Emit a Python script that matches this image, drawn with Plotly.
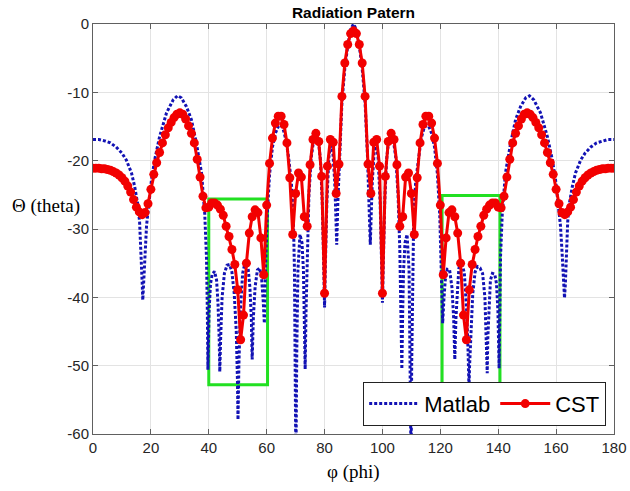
import plotly.graph_objects as go

# ---------------- data ----------------
cst_phi = list(range(0, 181))
cst_db = [
    -21.1, -21.1, -21.1, -21.2, -21.2, -21.3, -21.4, -21.6, -21.8, -22.1,
    -22.5, -23.0, -23.7, -24.6, -25.7, -26.8, -27.5, -27.9, -27.6, -26.3,
    -24.2, -22.0, -20.3, -18.8, -17.4, -16.2, -15.2, -14.4, -13.7, -13.2,
    -13.0, -13.2, -13.9, -14.9, -16.0, -17.4, -19.8, -22.4, -25.2, -26.9,
    -26.8, -26.2, -26.2, -26.5, -27.1, -28.0, -29.6, -31.1, -33.0, -35.2,
    -38.9, -46.2, -42.6, -35.0, -30.6, -28.2, -27.2, -27.6, -31.3, -36.7,
    -26.5, -20.4, -16.7, -14.5, -13.5, -13.5, -14.7, -17.4, -22.5, -30.8,
    -24.8, -21.8, -22.4, -28.2, -29.6, -20.6, -16.9, -16.0, -17.2, -22.3,
    -39.4, -20.8, -16.9, -17.3, -24.8, -20.5, -10.6, -5.7, -3.0, -1.4,
    -1.0,
    -1.4, -3.0, -5.7, -10.6, -20.5, -24.8, -17.3, -16.9, -20.8, -39.4,
    -22.3, -17.2, -16.0, -16.9, -20.6, -29.6, -28.2, -22.4, -21.8, -24.8,
    -30.8, -22.5, -17.4, -14.7, -13.5, -13.5, -14.5, -16.7, -20.4, -26.5,
    -36.7, -31.3, -27.6, -27.2, -28.2, -30.6, -35.0, -42.6, -46.2, -38.9,
    -35.2, -33.0, -31.1, -29.6, -28.0, -27.1, -26.5, -26.2, -26.2, -26.8,
    -26.9, -25.2, -22.4, -19.8, -17.4, -16.0, -14.9, -13.9, -13.2, -13.0,
    -13.2, -13.7, -14.4, -15.2, -16.2, -17.4, -18.8, -20.3, -22.0, -24.2,
    -26.3, -27.6, -27.9, -27.5, -26.8, -25.7, -24.6, -23.7, -23.0, -22.5,
    -22.1, -21.8, -21.6, -21.4, -21.3, -21.2, -21.2, -21.1, -21.1, -21.1,
]

matlab_phi = [
    0, 2, 4, 6, 8, 10, 11.5, 12.5, 13.3, 14.4, 15.6, 16.1, 16.6, 17.0, 17.2,
    17.5, 18.0, 18.5, 19.0, 20.2, 21.3, 23.0, 25.4, 27.7, 29.2, 30.5, 32.3,
    34.0, 35.7, 37.5, 38.6, 39.2, 39.5, 39.7, 40.1, 40.6, 41.2, 42.0, 42.7,
    43.2, 43.6, 43.8, 44.1, 44.6, 45.4, 46.3, 47.2, 48.0, 48.8, 49.5, 49.9,
    50.1, 50.4, 50.9, 51.7, 52.5, 53.0, 53.6, 54.2, 54.7, 55.0, 55.4, 56.0,
    56.8, 57.6, 58.3, 58.8, 59.2, 59.6, 60.2, 61.0, 62.0, 63.0, 64.0, 64.8,
    65.6, 66.5, 67.5, 68.5, 69.2, 69.6, 69.9, 70.1, 70.4, 70.8, 71.5, 72.2,
    72.7, 73.0, 73.3, 73.6, 74.0, 74.6, 75.4, 76.3, 77.1, 77.9, 78.6, 79.2,
    79.7, 80.0, 80.3, 80.8, 81.5, 82.2, 82.9, 83.5, 83.9, 84.2, 84.6, 85.2,
    86.0, 87.0, 88.0, 89.0, 90.0,
    91.0, 92.0, 93.0, 94.0, 94.8, 95.4, 95.8, 96.1, 96.5, 97.1, 97.8, 98.5,
    99.2, 99.7, 100.0, 100.3, 100.8, 101.4, 102.1, 102.9, 103.7, 104.6,
    105.4, 106.0, 106.4, 106.7, 107.0, 107.3, 107.8, 108.5, 109.2, 109.6,
    109.9, 110.1, 110.4, 110.8, 111.5, 112.5, 113.4, 114.4, 115.2, 116.0,
    117.0, 118.0, 119.0, 119.8, 120.4, 120.8, 121.2, 121.7, 122.4, 123.2,
    124.0, 124.6, 125.0, 125.4, 126.0, 126.4, 127.0, 127.5, 128.3, 129.1,
    129.6, 129.9, 130.1, 130.5, 131.2, 132.0, 132.8, 133.7, 134.6, 135.4,
    135.9, 136.2, 136.4, 136.8, 137.3, 138.0, 138.8, 139.4, 139.9, 140.3,
    140.5, 140.8, 141.4, 142.5, 144.3, 146.0, 147.7, 149.5, 150.8, 152.3,
    154.6, 157.0, 158.7, 159.8, 161.0, 161.5, 162.0, 162.5, 162.9, 163.2,
    163.6, 164.0, 164.4, 165.6, 166.7, 167.5, 168.5, 170.0, 172.0, 174.0,
    176.0, 178.0, 180.0,
]
matlab_db = [
    -16.9, -16.9, -17.1, -17.4, -18.0, -18.9, -19.9, -20.9, -21.8, -23.8,
    -26.7, -29.0, -33.0, -38.0, -40.4, -38.0, -33.0, -29.5, -27.5, -22.8,
    -19.9, -16.5, -13.0, -11.1, -10.5, -10.8, -12.1, -14.0, -17.4, -21.8,
    -27.7, -34.0, -42.0, -50.6, -42.0, -38.0, -36.6, -36.2, -37.5, -41.0,
    -46.0, -50.9, -46.0, -40.0, -36.5, -35.3, -35.2, -36.3, -39.5, -45.0,
    -52.0, -57.9, -50.0, -42.0, -36.5, -35.0, -34.8, -35.8, -38.5, -43.0,
    -49.1, -43.0, -38.5, -36.0, -35.7, -37.5, -40.5, -43.8, -36.0, -28.0,
    -22.0, -18.0, -16.0, -15.0, -14.8, -15.2, -16.7, -19.3, -23.0, -28.0,
    -36.0, -50.0, -65.0, -48.0, -36.0, -30.8, -32.0, -36.0, -42.0, -50.5,
    -42.0, -33.0, -25.0, -19.5, -16.8, -16.3, -17.2, -20.0, -26.0, -35.0,
    -41.5, -35.0, -26.0, -19.5, -17.5, -19.0, -23.0, -28.0, -32.3, -26.0,
    -19.0, -11.5, -6.5, -3.2, -0.8, 0.0,
    -0.8, -3.2, -6.5, -11.5, -19.0, -26.0, -32.3, -28.0, -23.0, -19.0,
    -17.5, -19.5, -26.0, -35.0, -40.8, -35.0, -26.0, -20.0, -17.2, -16.3,
    -16.8, -19.5, -25.0, -33.0, -42.0, -50.5, -42.0, -36.0, -32.0, -30.8,
    -36.0, -48.0, -65.0, -50.0, -36.0, -28.0, -23.0, -19.3, -16.7, -15.2,
    -14.8, -15.0, -16.0, -18.0, -22.0, -28.0, -36.0, -43.8, -40.5, -37.5,
    -35.9, -36.0, -38.5, -43.0, -49.1, -43.0, -38.5, -35.8, -34.8, -35.0,
    -36.5, -42.0, -48.0, -53.3, -50.0, -45.0, -39.5, -36.3, -35.5, -35.7,
    -36.5, -40.0, -46.0, -51.1, -46.0, -41.0, -37.5, -36.5, -36.6, -38.0,
    -42.0, -50.4, -42.0, -34.0, -27.7, -21.8, -17.4, -14.0, -12.1, -10.8,
    -10.5, -11.1, -13.0, -16.5, -19.9, -22.8, -27.5, -29.5, -33.0, -38.0,
    -40.1, -38.0, -33.0, -29.0, -26.7, -23.8, -21.8, -20.9, -19.9, -18.9,
    -18.0, -17.4, -17.1, -16.9, -16.9,
]

# highlighted regions (phi ranges, dB ranges)
box_phi = [[40.0, 60.3], [120.6, 140.6]]
box_db = [[-52.8, -25.6], [-52.6, -25.1]]

x_tick_vals = [0, 20, 40, 60, 80, 100, 120, 140, 160, 180]
x_tick_text = ["0", "20", "40", "60", "80", "100", "120", "140", "160", "180"]
y_tick_vals = [-60, -50, -40, -30, -20, -10, 0]
y_tick_text = ["-60", "-50", "-40", "-30", "-20", "-10", "0"]

# ---------------- figure ----------------
BLUE = "#1212b4"
RED = "#f20000"
GREEN = "#22e022"
AX = "#606060"

fig = go.Figure()
fig.add_trace(go.Scatter(
    x=matlab_phi, y=matlab_db, mode="lines", name="Matlab",
    line=dict(color=BLUE, width=3, dash="3px,2px"),
))
fig.add_trace(go.Scatter(
    x=cst_phi, y=cst_db, mode="lines+markers", name="CST",
    line=dict(color=RED, width=3),
    marker=dict(color=RED, size=9, symbol="circle"),
))

for (p0, p1), (d0, d1) in zip(box_phi, box_db):
    fig.add_shape(type="rect", xref="x", yref="y", x0=p0, x1=p1, y0=d0, y1=d1,
                  line=dict(color=GREEN, width=3), fillcolor="rgba(0,0,0,0)",
                  layer="between")

axis_common = dict(
    showline=True, linecolor=AX, linewidth=1, mirror="ticks",
    ticks="inside", ticklen=5, tickcolor=AX, tickwidth=1,
    showgrid=True, gridcolor="#e3e3e3", gridwidth=1, zeroline=False,
    automargin=False,
    tickfont=dict(family="Liberation Sans, Arial, sans-serif", size=15, color="#262626"),
)

fig.update_xaxes(range=[0, 180], tickvals=x_tick_vals, ticktext=x_tick_text, **axis_common)
fig.update_yaxes(range=[-60, 0], tickvals=y_tick_vals, ticktext=y_tick_text, **axis_common)

fig.update_layout(
    width=630, height=491, autosize=False,
    margin=dict(l=93, r=16, t=24, b=57, autoexpand=False),
    paper_bgcolor="white", plot_bgcolor="white",
    title=dict(text="Radiation Patern", x=0.5, xref="paper", xanchor="center",
               y=1 - 12.5 / 491, yref="container", yanchor="middle",
               font=dict(family="Liberation Sans, Arial, sans-serif", size=15.5,
                         color="black", weight="bold")),
    showlegend=True,
    legend=dict(orientation="h", x=0.985, xanchor="right", y=0.02, yanchor="bottom",
                bgcolor="white", bordercolor="#222222", borderwidth=1,
                itemwidth=50,
                font=dict(family="Liberation Sans, Arial, sans-serif", size=22, color="black")),
    annotations=[
        dict(text="\u0398 (theta)", xref="paper", yref="paper", x=-0.0895, y=0.555,
             xanchor="center", yanchor="middle", showarrow=False,
             font=dict(family="Liberation Serif, Times New Roman, serif", size=19, color="black")),
        dict(text="\u03c6 (phi)", xref="paper", yref="paper", x=0.5, y=-0.092,
             xanchor="center", yanchor="middle", showarrow=False,
             font=dict(family="Liberation Serif, Times New Roman, serif", size=19, color="black")),
    ],
)

fig.write_html(
    "out.html",
    config={"displayModeBar": False, "responsive": False},
    post_script=(
        "document.documentElement.style.margin='0';"
        "document.body.style.margin='0';"
        "document.documentElement.style.overflow='hidden';"
        "document.body.style.overflow='hidden';"
    ),
)
